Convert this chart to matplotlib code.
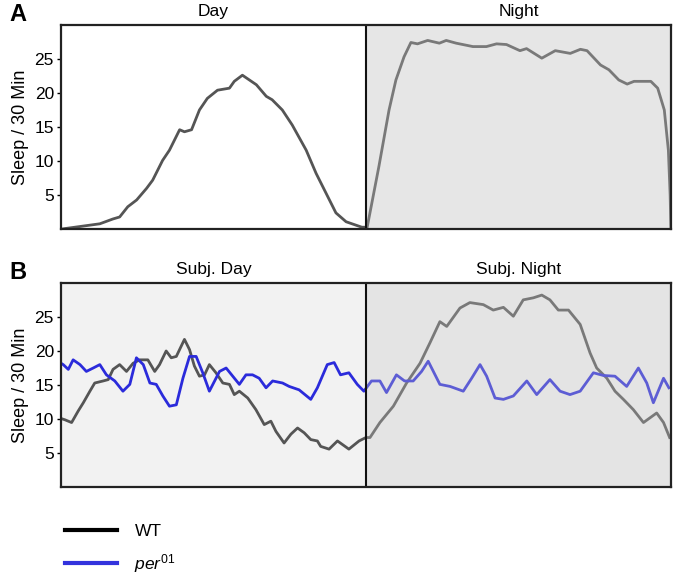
import numpy as np
import matplotlib
matplotlib.use("Agg")
import matplotlib.pyplot as plt
from matplotlib.lines import Line2D

plt.rcParams['font.family'] = ['Liberation Sans', 'DejaVu Sans']
plt.rcParams['mathtext.fontset'] = 'custom'
plt.rcParams['mathtext.it'] = 'Liberation Sans:italic'
plt.rcParams['mathtext.rm'] = 'Liberation Sans'

# ---- data (hours, sleep per 30 min) ----
# Panel A: WT in light/dark, day 0-12, night 12-24
a_t = [0.0, 0.16, 1.53, 2.04, 2.31, 2.63, 2.98, 3.37, 3.61, 4.0, 4.27, 4.67, 4.86, 5.14,
       5.45, 5.76, 6.16, 6.63, 6.82, 7.14, 7.69, 8.08, 8.31, 8.71, 9.10, 9.65, 10.04,
       10.43, 10.82, 11.22, 11.84, 12.05, 12.51, 12.91, 13.18, 13.50, 13.77, 14.03,
       14.43, 14.89, 15.16, 15.55, 16.21, 16.74, 17.14, 17.53, 18.06, 18.32, 18.92,
       19.45, 20.04, 20.44, 20.70, 21.23, 21.56, 21.95, 22.28, 22.55, 23.21, 23.48,
       23.74, 23.90, 23.97, 24.0]
a_wt = [0.0, 0.1, 0.8, 1.5, 1.8, 3.3, 4.3, 6.0, 7.2, 10.1, 11.6, 14.6, 14.3, 14.6,
        17.5, 19.2, 20.4, 20.7, 21.7, 22.6, 21.2, 19.5, 19.0, 17.5, 15.3, 11.6, 8.2,
        5.3, 2.4, 1.1, 0.3, 0.3, 9.2, 17.5, 21.9, 25.3, 27.4, 27.2, 27.7, 27.3, 27.7,
        27.3, 26.8, 26.8, 27.2, 27.1, 26.2, 26.5, 25.1, 26.2, 25.8, 26.4, 26.2, 24.1,
        23.4, 21.9, 21.3, 21.7, 21.7, 20.7, 17.5, 11.6, 5.0, 0.0]

# Panel B: constant darkness, subjective day 0-12, subjective night 12-24
b_wt_t = [0.0, 0.16, 0.42, 0.68, 0.88, 1.14, 1.33, 1.66, 1.86, 2.05, 2.31, 2.58, 2.84,
          3.10, 3.42, 3.69, 3.88, 4.14, 4.34, 4.54, 4.86, 5.06, 5.25, 5.45, 5.65, 5.84,
          6.10, 6.37, 6.63, 6.82, 7.02, 7.35, 7.67, 8.0, 8.26, 8.46, 8.78, 9.05, 9.31,
          9.57, 9.83, 10.09, 10.22, 10.55, 10.88, 11.33, 11.73, 12.0, 12.16, 12.55,
          13.08, 13.60, 14.13, 14.52, 14.91, 15.18, 15.70, 16.09, 16.62, 17.01, 17.41,
          17.80, 18.19, 18.59, 18.92, 19.24, 19.57, 19.97, 20.43, 20.82, 21.08, 21.48,
          21.80, 22.13, 22.52, 22.92, 23.18, 23.44, 23.71, 23.95]
b_wt = [10.1, 9.9, 9.5, 11.2, 12.4, 14.1, 15.3, 15.6, 15.8, 17.3, 18.0, 17.0, 18.2,
        18.7, 18.7, 17.0, 18.0, 20.0, 19.0, 19.2, 21.7, 20.2, 17.8, 16.3, 16.5, 18.0,
        16.8, 15.3, 15.1, 13.6, 14.1, 13.1, 11.4, 9.2, 9.7, 8.2, 6.5, 7.8, 8.7, 8.0,
        7.0, 6.8, 6.0, 5.6, 6.8, 5.6, 6.8, 7.3, 7.3, 9.5, 11.9, 15.3, 18.2, 21.2, 24.3,
        23.6, 26.3, 27.1, 26.8, 26.0, 26.4, 25.1, 27.5, 27.8, 28.2, 27.5, 26.0, 26.0,
        23.9, 19.7, 17.5, 16.0, 14.1, 12.9, 11.4, 9.5, 10.2, 10.9, 9.5, 7.3]

b_per_t = [0.0, 0.09, 0.29, 0.48, 0.75, 1.0, 1.27, 1.53, 1.79, 2.12, 2.44, 2.71, 2.97,
           3.24, 3.50, 3.75, 4.01, 4.27, 4.54, 4.80, 5.06, 5.32, 5.58, 5.84, 6.24,
           6.50, 6.76, 7.02, 7.28, 7.54, 7.80, 8.07, 8.33, 8.72, 8.98, 9.37, 9.83,
           10.09, 10.48, 10.75, 11.0, 11.33, 11.66, 11.92, 12.22, 12.55, 12.81, 13.20,
           13.52, 13.86, 14.19, 14.45, 14.91, 15.31, 15.83, 16.16, 16.49, 16.75, 17.08,
           17.41, 17.80, 18.33, 18.72, 19.24, 19.64, 20.03, 20.43, 20.95, 21.35, 21.80,
           22.26, 22.72, 23.05, 23.31, 23.71, 23.92]
b_per = [18.2, 18.0, 17.3, 18.7, 18.0, 17.0, 17.5, 18.0, 16.5, 15.6, 14.1, 15.1, 19.0,
         18.0, 15.3, 15.1, 13.4, 11.9, 12.1, 16.0, 19.2, 19.2, 16.8, 14.1, 17.0, 17.5,
         16.3, 15.1, 16.5, 16.5, 16.0, 14.6, 15.6, 15.3, 14.8, 14.3, 12.9, 14.6, 18.0,
         18.3, 16.5, 16.8, 15.1, 14.1, 15.6, 15.6, 13.9, 16.5, 15.6, 15.6, 17.0, 18.5,
         15.1, 14.8, 14.1, 16.0, 18.0, 16.3, 13.1, 12.9, 13.4, 15.6, 13.6, 15.8, 14.1,
         13.6, 14.1, 16.8, 16.4, 16.3, 14.8, 17.5, 15.3, 12.4, 16.0, 14.6]

a_titles = ['Day', 'Night']
b_titles = ['Subj. Day', 'Subj. Night']
yticks = [5, 10, 15, 20, 25]

fig = plt.figure(figsize=(6.77, 5.76), dpi=100)
axA = fig.add_axes([0.090, 0.602, 0.901, 0.355])
axB = fig.add_axes([0.090, 0.154, 0.901, 0.355])

gray = '#555555'
blue = '#2b2bdb'

axA.plot(a_t, a_wt, color=gray, lw=2.0, zorder=2)
axA.axvspan(12, 24, color='#bababa', alpha=0.36, lw=0, zorder=3)

axB.set_facecolor('#f2f2f2')
axB.plot(b_wt_t, b_wt, color=gray, lw=2.0, zorder=2)
axB.plot(b_per_t, b_per, color=blue, lw=2.0, zorder=2)
axB.axvspan(12, 24, color='#c8c8c8', alpha=0.32, lw=0, zorder=3)

for ax, titles, letter in [(axA, a_titles, 'A'), (axB, b_titles, 'B')]:
    ax.set_xlim(0, 24)
    ax.set_ylim(0, 30)
    ax.axvline(12, color='#111111', lw=1.5, zorder=4)
    ax.set_xticks([])
    ax.set_yticks(yticks)
    ax.tick_params(axis='y', length=3, width=1, labelsize=12.5, pad=2)
    for s in ax.spines.values():
        s.set_linewidth(1.6)
        s.set_color('#222222')
        s.set_zorder(5)
    ax.set_ylabel('Sleep / 30 Min', fontsize=13, labelpad=4)
    ax.text(6, 30.8, titles[0], ha='center', va='bottom', fontsize=12.5)
    ax.text(18, 30.8, titles[1], ha='center', va='bottom', fontsize=12.5)
    ax.text(-0.085, 1.05, letter, transform=ax.transAxes, fontsize=17,
            fontweight='bold', ha='left', va='center')

handles = [Line2D([], [], color='black', lw=3),
           Line2D([], [], color='#3333dd', lw=3)]
fig.legend(handles, ['WT', r'$\mathit{per}^{\mathit{01}}$'],
           loc='upper left', bbox_to_anchor=(0.073, 0.118), frameon=False,
           fontsize=12.5, handlelength=3.0, handletextpad=1.0, labelspacing=0.75)

fig.savefig('out.png', dpi=100)
